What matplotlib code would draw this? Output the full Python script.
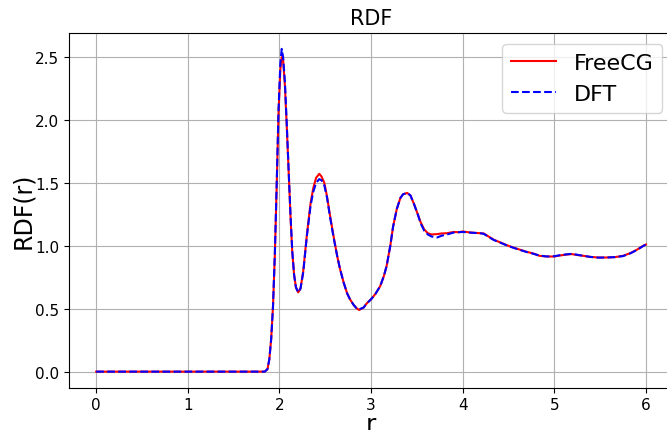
import numpy as np
import matplotlib
matplotlib.use("Agg")
import matplotlib.pyplot as plt

# radial grid
r = [0.0, 1.80, 1.84, 1.87, 1.89, 1.91, 1.93, 1.95, 1.97, 1.99, 2.01, 2.025,
     2.04, 2.06, 2.08, 2.10, 2.12, 2.14, 2.16, 2.18, 2.205, 2.23, 2.26, 2.30,
     2.34, 2.37, 2.40, 2.435, 2.46, 2.49, 2.52, 2.55, 2.59, 2.63, 2.66, 2.70,
     2.74, 2.77, 2.81, 2.84, 2.87, 2.92, 2.95, 3.00, 3.05, 3.10, 3.14, 3.17,
     3.21, 3.24, 3.28, 3.32, 3.35, 3.395, 3.43, 3.47, 3.51, 3.54, 3.58, 3.62,
     3.66, 3.72, 3.77, 3.83, 3.90, 3.96, 4.00, 4.08, 4.19, 4.23, 4.28, 4.34,
     4.41, 4.48, 4.55, 4.63, 4.70, 4.77, 4.84, 4.92, 5.00, 5.06, 5.13, 5.19,
     5.24, 5.32, 5.39, 5.48, 5.57, 5.66, 5.75, 5.83, 5.90, 5.97, 6.00]

rdf_freecg = [0.0, 0.0, 0.0, 0.02, 0.10, 0.26, 0.52, 0.93, 1.47, 2.05, 2.40, 2.50,
              2.48, 2.27, 1.95, 1.60, 1.25, 0.95, 0.77, 0.67, 0.63, 0.66, 0.80, 1.09,
              1.34, 1.46, 1.54, 1.572, 1.55, 1.50, 1.39, 1.25, 1.08, 0.92, 0.82, 0.71,
              0.62, 0.575, 0.53, 0.505, 0.49, 0.51, 0.54, 0.575, 0.62, 0.68, 0.76, 0.84,
              1.00, 1.15, 1.29, 1.38, 1.41, 1.42, 1.40, 1.33, 1.25, 1.19, 1.13, 1.10,
              1.09, 1.093, 1.098, 1.10, 1.11, 1.108, 1.114, 1.106, 1.10, 1.098, 1.075, 1.048,
              1.027, 1.005, 0.987, 0.968, 0.952, 0.939, 0.92, 0.915, 0.915, 0.923, 0.93, 0.934,
              0.928, 0.92, 0.912, 0.907, 0.907, 0.91, 0.92, 0.942, 0.968, 1.0, 1.01]

rdf_dft = [0.0, 0.0, 0.0, 0.02, 0.10, 0.26, 0.52, 0.94, 1.49, 2.08, 2.45, 2.565,
           2.50, 2.30, 1.97, 1.61, 1.26, 0.96, 0.77, 0.67, 0.63, 0.66, 0.79, 1.08,
           1.32, 1.43, 1.50, 1.53, 1.52, 1.48, 1.38, 1.24, 1.07, 0.92, 0.82, 0.71,
           0.62, 0.575, 0.53, 0.505, 0.495, 0.51, 0.54, 0.575, 0.62, 0.68, 0.76, 0.84,
           1.00, 1.15, 1.29, 1.38, 1.41, 1.42, 1.40, 1.33, 1.25, 1.18, 1.12, 1.09,
           1.074, 1.066, 1.08, 1.09, 1.105, 1.108, 1.11, 1.105, 1.10, 1.095, 1.072, 1.046,
           1.025, 1.004, 0.985, 0.966, 0.95, 0.937, 0.922, 0.915, 0.917, 0.925, 0.932, 0.936,
           0.93, 0.92, 0.912, 0.906, 0.907, 0.91, 0.918, 0.94, 0.966, 0.998, 1.01]

fig = plt.figure(figsize=(6.67, 4.31), dpi=100)
# axes runs a little past the right edge, like the cropped original
ax = fig.add_axes([0.103, 0.098, 0.9066, 0.8237])

ax.plot(r, rdf_freecg, color="red", linestyle="-", label="FreeCG")
ax.plot(r, rdf_dft, color="blue", linestyle="--", label="DFT")

ax.set_title("RDF", fontsize=15)
ax.set_xlabel("r", fontsize=18, labelpad=0)
ax.set_ylabel("RDF(r)", fontsize=17, labelpad=0)
ax.tick_params(labelsize=11)
ax.grid(True)
ax.legend(loc="upper right", fontsize=16)

fig.savefig("out.png", dpi=100)
